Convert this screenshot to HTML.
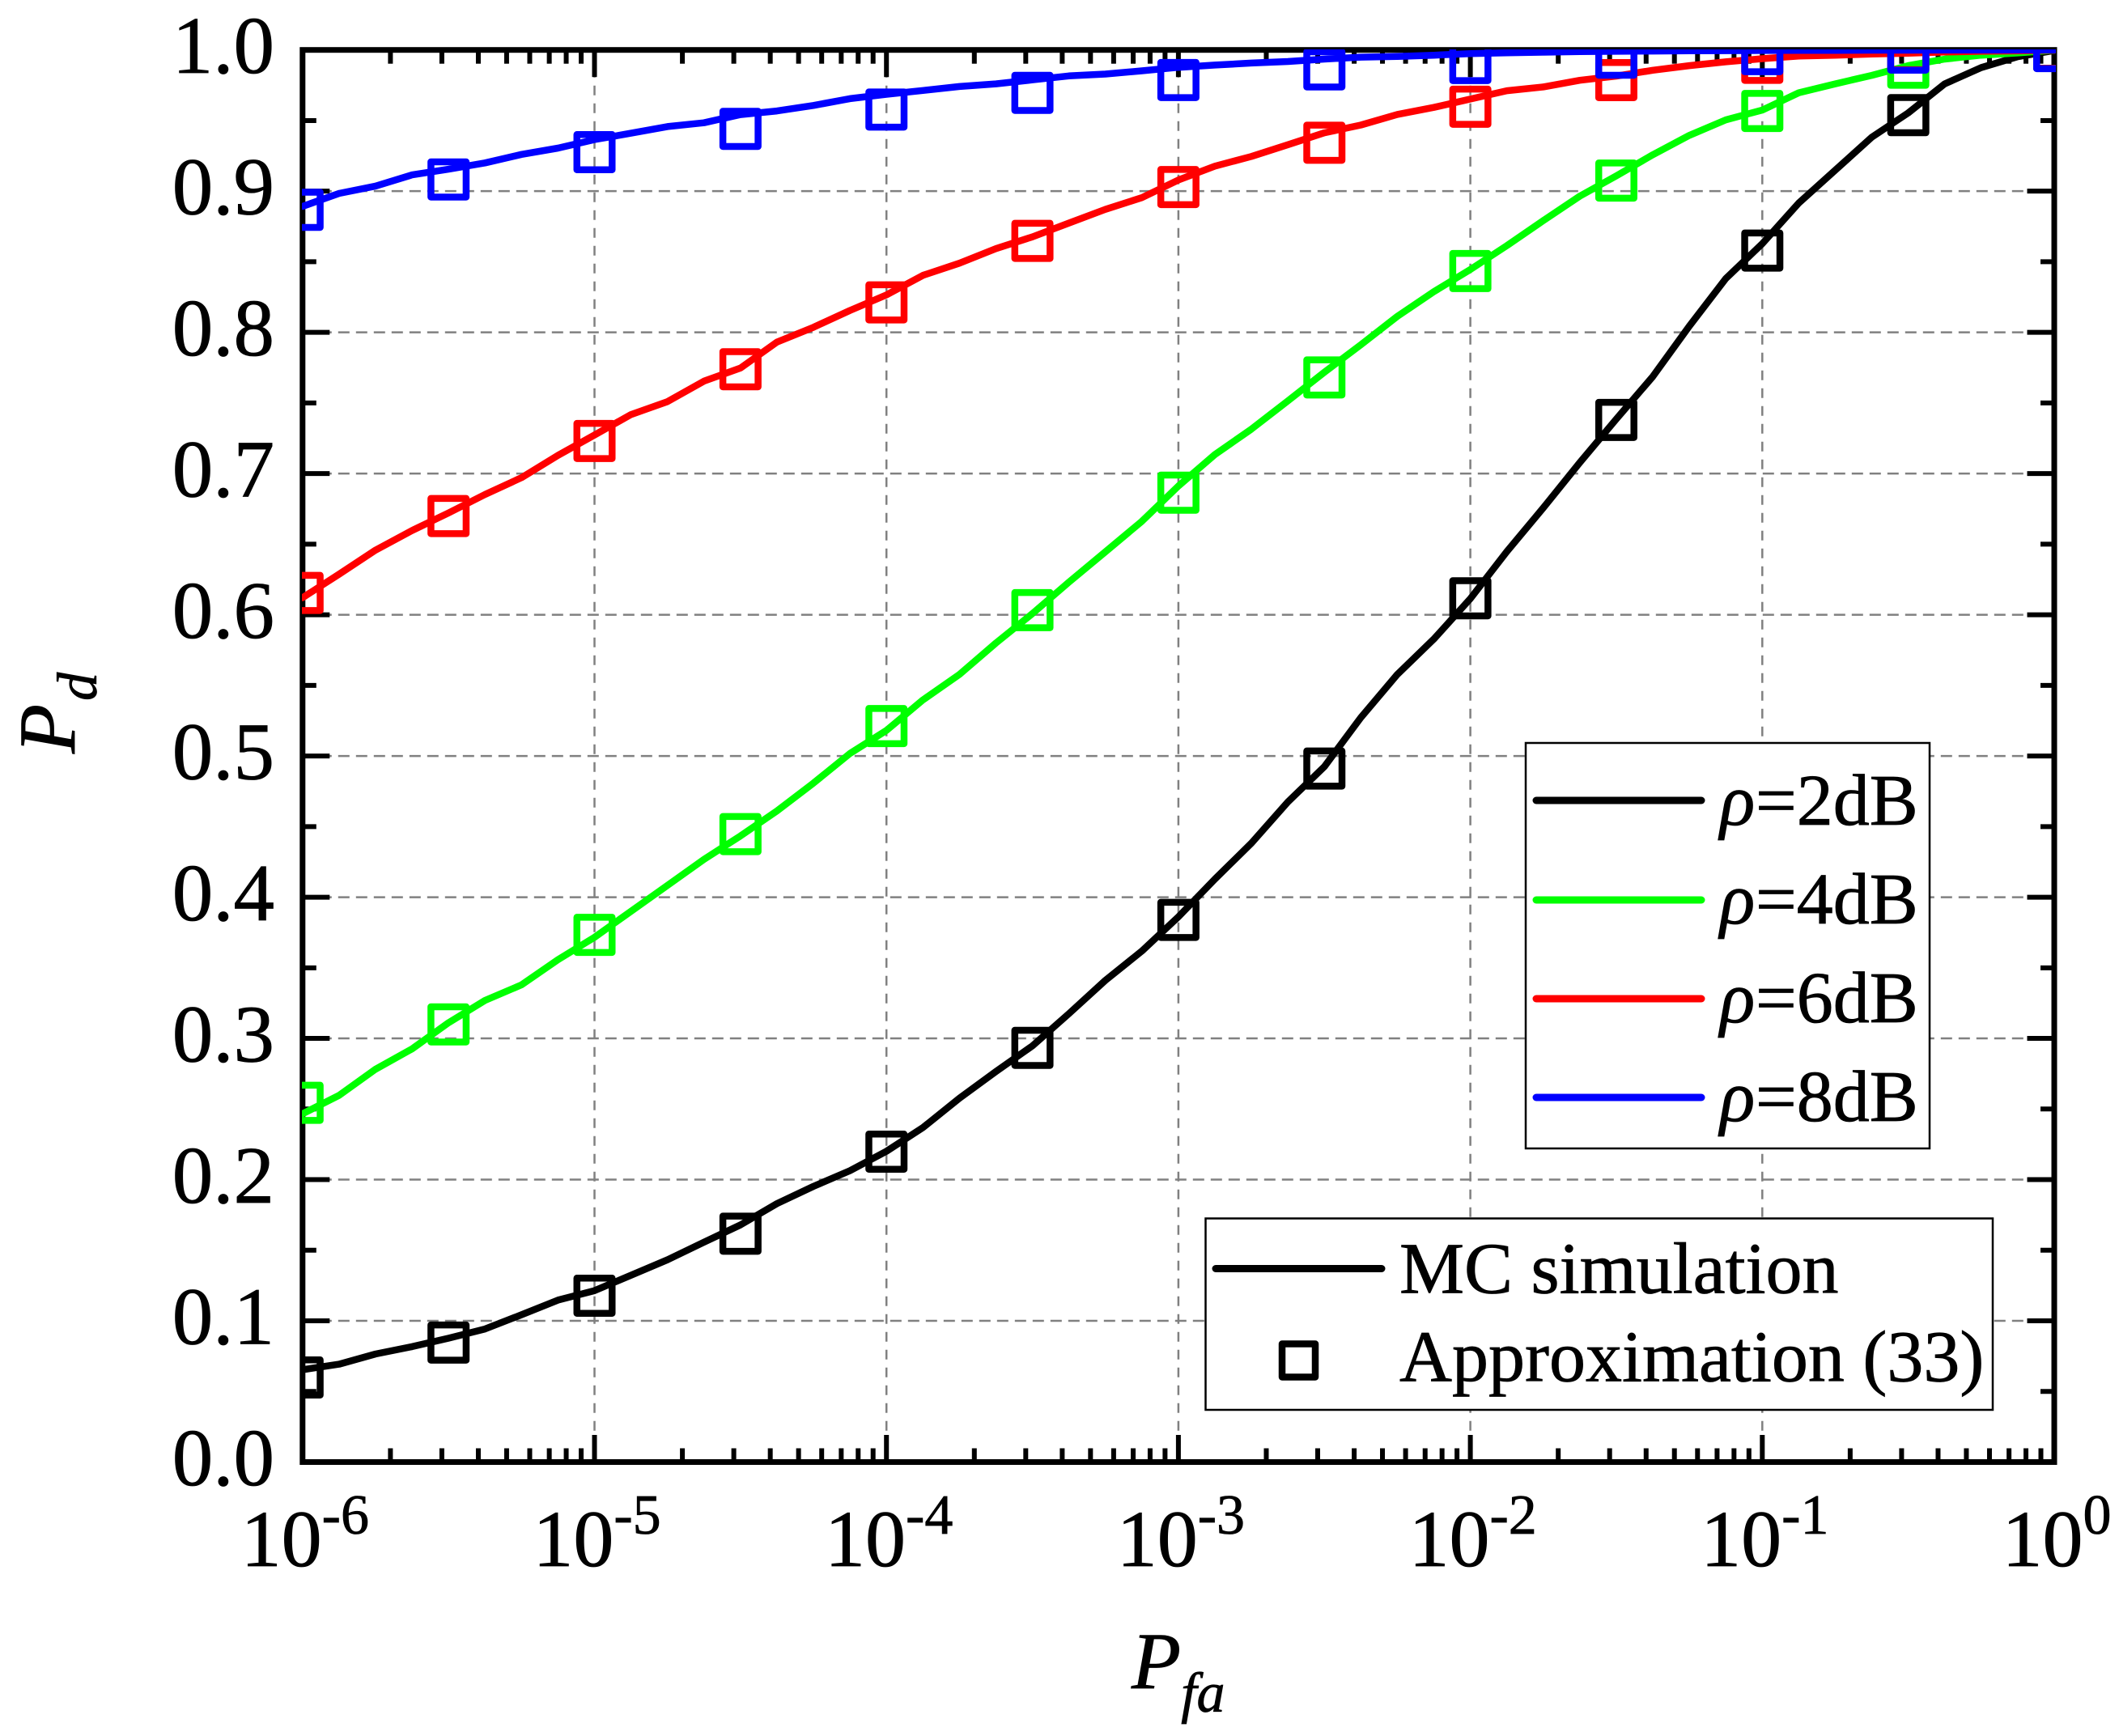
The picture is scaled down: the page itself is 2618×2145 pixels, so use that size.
<!DOCTYPE html>
<html lang="en">
<head>
<meta charset="utf-8">
<title>Pd vs Pfa chart</title>
<style>
html,body{margin:0;padding:0;background:#fff;}
svg{display:block;}
text{font-family:"Liberation Serif",serif;fill:#000;stroke:#000;stroke-width:0.8px;}
</style>
</head>
<body>
<svg id="chart" xmlns="http://www.w3.org/2000/svg" width="2618" height="2145" viewBox="0 0 2618 2145">
  <defs>
    <clipPath id="plot-clip-full"><rect x="373" y="61" width="2167" height="1746"/></clipPath>
  </defs>
  <rect x="0" y="0" width="2618" height="2145" fill="#fff"/>
  <g id="grid"></g>
  <rect x="373.8" y="61.7" width="2164.2" height="1744.8" fill="none" stroke="#000" stroke-width="7"/>
  <g id="ticks"></g>
  <g id="tick-labels"></g>
  <g id="series" clip-path="url(#plot-clip-full)"></g>

  <text transform="translate(92,931) rotate(-90)" font-size="100" font-style="italic">P<tspan font-size="70" dx="4" dy="27">d</tspan></text>
  <text x="1398" y="2086" font-size="100" font-style="italic">P<tspan font-size="70" dx="0" dy="29">fa</tspan></text>

  <g>
    <rect x="1885" y="918" width="499" height="501" fill="#fff" stroke="#000" stroke-width="2.5"/>
    <g>
      <line x1="1898" y1="989" x2="2102" y2="989" stroke="#000" stroke-width="9" stroke-linecap="round"/>
      <text y="1019" font-size="90"><tspan x="2125" font-style="italic">ρ</tspan><tspan x="2169">=2dB</tspan></text>
    </g>
    <g>
      <line x1="1898" y1="1112" x2="2102" y2="1112" stroke="#00ff00" stroke-width="9" stroke-linecap="round"/>
      <text y="1141" font-size="90"><tspan x="2125" font-style="italic">ρ</tspan><tspan x="2169">=4dB</tspan></text>
    </g>
    <g>
      <line x1="1898" y1="1234" x2="2102" y2="1234" stroke="#ff0000" stroke-width="9" stroke-linecap="round"/>
      <text y="1263" font-size="90"><tspan x="2125" font-style="italic">ρ</tspan><tspan x="2169">=6dB</tspan></text>
    </g>
    <g>
      <line x1="1898" y1="1356" x2="2102" y2="1356" stroke="#0000ff" stroke-width="9" stroke-linecap="round"/>
      <text y="1385" font-size="90"><tspan x="2125" font-style="italic">ρ</tspan><tspan x="2169">=8dB</tspan></text>
    </g>
  </g>

  <g>
    <rect x="1489.5" y="1505.5" width="972.5" height="236.5" fill="#fff" stroke="#000" stroke-width="2.5"/>
    <g>
      <line x1="1502" y1="1567.5" x2="1707" y2="1567.5" stroke="#000" stroke-width="9" stroke-linecap="round"/>
      <text x="1729" y="1597.5" font-size="90">MC simulation</text>
    </g>
    <g>
      <rect x="1584" y="1660.5" width="41" height="41" fill="none" stroke="#000" stroke-width="8.5" stroke-linejoin="round"/>
      <text x="1729" y="1706.5" font-size="90">Approximation (33)</text>
    </g>
  </g>
</svg>

<script>
// Chart data
const xMajorExponents = [-6, -5, -4, -3, -2, -1, 0];
const xMinorFactors = [2, 3, 4, 5, 6, 7, 8, 9];
const yMajorTicks = [0.0, 0.1, 0.2, 0.3, 0.4, 0.5, 0.6, 0.7, 0.8, 0.9, 1.0];
const yMinorTicks = [0.05, 0.15, 0.25, 0.35, 0.45, 0.55, 0.65, 0.75, 0.85, 0.95];
const yTickLabels = ["0.0", "0.1", "0.2", "0.3", "0.4", "0.5", "0.6", "0.7", "0.8", "0.9", "1.0"];
const xTickLabels = ["-6", "-5", "-4", "-3", "-2", "-1", "0"];

const lineExponents = [-6, -5.875, -5.75, -5.625, -5.5, -5.375, -5.25, -5.125, -5, -4.875, -4.75, -4.625, -4.5, -4.375, -4.25, -4.125, -4, -3.875, -3.75, -3.625, -3.5, -3.375, -3.25, -3.125, -3, -2.875, -2.75, -2.625, -2.5, -2.375, -2.25, -2.125, -2, -1.875, -1.75, -1.625, -1.5, -1.375, -1.25, -1.125, -1, -0.875, -0.75, -0.625, -0.5, -0.375, -0.25, -0.125, 0];
const markerExponents = [-6, -5.5, -5, -4.5, -4, -3.5, -3, -2.5, -2, -1.5, -1, -0.5, 0];

const line2dB = [0.0654, 0.0693, 0.0765, 0.0817, 0.0877, 0.0942, 0.1043, 0.1147, 0.1214, 0.1323, 0.1432, 0.1557, 0.1679, 0.1830, 0.1952, 0.2063, 0.2201, 0.2369, 0.2577, 0.2766, 0.2947, 0.3175, 0.3411, 0.3619, 0.3861, 0.4128, 0.4383, 0.4675, 0.4925, 0.5272, 0.5578, 0.5828, 0.6114, 0.6448, 0.6758, 0.7079, 0.7386, 0.7687, 0.8044, 0.8381, 0.8628, 0.8916, 0.9149, 0.9382, 0.9554, 0.9760, 0.9875, 0.9952, 0.9996];
const line4dB = [0.2466, 0.2597, 0.2782, 0.2926, 0.3111, 0.3269, 0.3379, 0.3558, 0.3716, 0.3900, 0.4084, 0.4268, 0.4434, 0.4611, 0.4808, 0.5018, 0.5181, 0.5397, 0.5578, 0.5800, 0.6008, 0.6231, 0.6446, 0.6662, 0.6912, 0.7135, 0.7315, 0.7515, 0.7718, 0.7912, 0.8113, 0.8288, 0.8445, 0.8614, 0.8792, 0.8965, 0.9108, 0.9258, 0.9395, 0.9505, 0.9574, 0.9697, 0.9760, 0.9820, 0.9889, 0.9935, 0.9963, 0.9979, 0.9998];
const line6dB = [0.6121, 0.6287, 0.6458, 0.6597, 0.6721, 0.6852, 0.6971, 0.7129, 0.7273, 0.7418, 0.7510, 0.7655, 0.7747, 0.7931, 0.8036, 0.8155, 0.8265, 0.8404, 0.8490, 0.8593, 0.8676, 0.8774, 0.8871, 0.8954, 0.9079, 0.9177, 0.9246, 0.9329, 0.9413, 0.9468, 0.9543, 0.9593, 0.9652, 0.9711, 0.9738, 0.9785, 0.9815, 0.9856, 0.9889, 0.9916, 0.9938, 0.9957, 0.9963, 0.9971, 0.9977, 0.9985, 0.9990, 0.9993, 0.9998];
const line8dB = [0.8892, 0.8984, 0.9036, 0.9115, 0.9155, 0.9200, 0.9260, 0.9305, 0.9365, 0.9410, 0.9457, 0.9484, 0.9542, 0.9568, 0.9607, 0.9655, 0.9686, 0.9713, 0.9741, 0.9760, 0.9788, 0.9816, 0.9829, 0.9852, 0.9877, 0.9893, 0.9907, 0.9918, 0.9935, 0.9949, 0.9954, 0.9963, 0.9974, 0.9980, 0.9984, 0.9988, 0.9990, 0.9992, 0.9994, 0.9995, 0.9996, 0.9997, 0.9997, 0.9998, 0.9998, 0.9999, 0.9999, 0.9999, 1.0];

const markers2dB = [0.0599, 0.0846, 0.1178, 0.1617, 0.2198, 0.2933, 0.3839, 0.4911, 0.6117, 0.7380, 0.8579, 0.9538, 0.9995];
const markers4dB = [0.2544, 0.3099, 0.3733, 0.4447, 0.5212, 0.6033, 0.6865, 0.7681, 0.8434, 0.9075, 0.9568, 0.9874, 0.9995];
const markers6dB = [0.6155, 0.6699, 0.7231, 0.7739, 0.8212, 0.8648, 0.9029, 0.9343, 0.9598, 0.9786, 0.9909, 0.9985, 0.9995];
const markers8dB = [0.8868, 0.9083, 0.9276, 0.9441, 0.9578, 0.9696, 0.9787, 0.9862, 0.9907, 0.9945, 0.9970, 0.9981, 0.9992];

// Axis functions
const PLOT_LEFT = 373.8, PLOT_RIGHT = 2538, PLOT_TOP = 61.7, PLOT_BOTTOM = 1806.5;
function xScale(exp) { return PLOT_LEFT + (exp + 6) / 6 * (PLOT_RIGHT - PLOT_LEFT); }
function yScale(v) { return PLOT_BOTTOM - v * (PLOT_BOTTOM - PLOT_TOP); }

const NS = 'http://www.w3.org/2000/svg';
function make(tag, parent, attrs) {
  const el = document.createElementNS(NS, tag);
  for (const k in attrs) el.setAttribute(k, attrs[k]);
  parent.appendChild(el);
  return el;
}

const gridG = document.getElementById('grid');
const ticksG = document.getElementById('ticks');
const labelsG = document.getElementById('tick-labels');
const seriesG = document.getElementById('series');

// Grid
yMajorTicks.forEach(function (v) {
  if (v <= 0 || v >= 1) return;
  const g = make('line', gridG, {x1: PLOT_LEFT, x2: PLOT_RIGHT, y1: yScale(v), y2: yScale(v), stroke: '#808080', 'stroke-width': 2.5, 'stroke-dasharray': '14 8'});
  
  
});
xMajorExponents.forEach(function (e) {
  if (e <= -6 || e >= 0) return;
  const g = make('line', gridG, {x1: xScale(e), x2: xScale(e), y1: PLOT_TOP, y2: PLOT_BOTTOM, stroke: '#808080', 'stroke-width': 2.5, 'stroke-dasharray': '12 10'});
  
  
});

// Ticks
const MAJOR_LEN = 33.5, MINOR_LEN = 17, TICK_W = 6;
function tickLine(x1, y1, x2, y2, name) {
  const t = make('line', ticksG, {x1: x1, y1: y1, x2: x2, y2: y2, stroke: '#000', 'stroke-width': TICK_W});
  
  
}
xMajorExponents.forEach(function (e) {
  const x = xScale(e);
  tickLine(x, PLOT_BOTTOM, x, PLOT_BOTTOM - MAJOR_LEN, 'x-major-tick');
  tickLine(x, PLOT_TOP, x, PLOT_TOP + MAJOR_LEN, 'x-major-tick-top');
  if (e < 0) {
    xMinorFactors.forEach(function (f) {
      const mx = xScale(e + Math.log10(f));
      tickLine(mx, PLOT_BOTTOM, mx, PLOT_BOTTOM - MINOR_LEN, 'x-minor-tick');
      tickLine(mx, PLOT_TOP, mx, PLOT_TOP + MINOR_LEN, 'x-minor-tick-top');
    });
  }
});
yMajorTicks.forEach(function (v) {
  const y = yScale(v);
  tickLine(PLOT_LEFT, y, PLOT_LEFT + MAJOR_LEN, y, 'y-major-tick');
  tickLine(PLOT_RIGHT, y, PLOT_RIGHT - MAJOR_LEN, y, 'y-major-tick-right');
});
yMinorTicks.forEach(function (v) {
  const y = yScale(v);
  tickLine(PLOT_LEFT, y, PLOT_LEFT + MINOR_LEN, y, 'y-minor-tick');
  tickLine(PLOT_RIGHT, y, PLOT_RIGHT - MINOR_LEN, y, 'y-minor-tick-right');
});

// Tick labels
yMajorTicks.forEach(function (v, i) {
  const t = make('text', labelsG, {x: 339, y: yScale(v) + 28.5, 'font-size': 101, 'text-anchor': 'end'});
  
  
  t.textContent = yTickLabels[i];
});
xMajorExponents.forEach(function (e, i) {
  const t = make('text', labelsG, {x: xScale(e) + 3, y: 1935, 'font-size': 100, 'text-anchor': 'middle'});
  
  
  t.appendChild(document.createTextNode('10'));
  const s = make('tspan', t, {'font-size': 70, dy: -40});
  s.textContent = xTickLabels[i];
});

// Series
const seriesNames = ['rho-2db', 'rho-4db', 'rho-6db', 'rho-8db'];
const seriesLines = [line2dB, line4dB, line6dB, line8dB];
const seriesMarkers = [markers2dB, markers4dB, markers6dB, markers8dB];
const seriesColors = ['#000000', '#00ff00', '#ff0000', '#0000ff'];
const MARKER_SIDE = 43.5;

seriesNames.forEach(function (name, s) {
  const pts = seriesLines[s].map(function (v, i) {
    return xScale(lineExponents[i]).toFixed(1) + ',' + yScale(v).toFixed(1);
  }).join(' ');
  const pl = make('polyline', seriesG, {points: pts, fill: 'none', stroke: seriesColors[s], 'stroke-width': 8.5, 'stroke-linejoin': 'round', 'stroke-linecap': 'round'});
  
  
  seriesMarkers[s].forEach(function (v, i) {
    const cx = xScale(markerExponents[i]);
    const cy = yScale(v);
    const r = make('rect', seriesG, {x: cx - MARKER_SIDE / 2, y: cy - MARKER_SIDE / 2, width: MARKER_SIDE, height: MARKER_SIDE, fill: 'none', stroke: seriesColors[s], 'stroke-width': 8.5, 'stroke-linejoin': 'round'});
    
    
  });
});
</script>
</body>
</html>
